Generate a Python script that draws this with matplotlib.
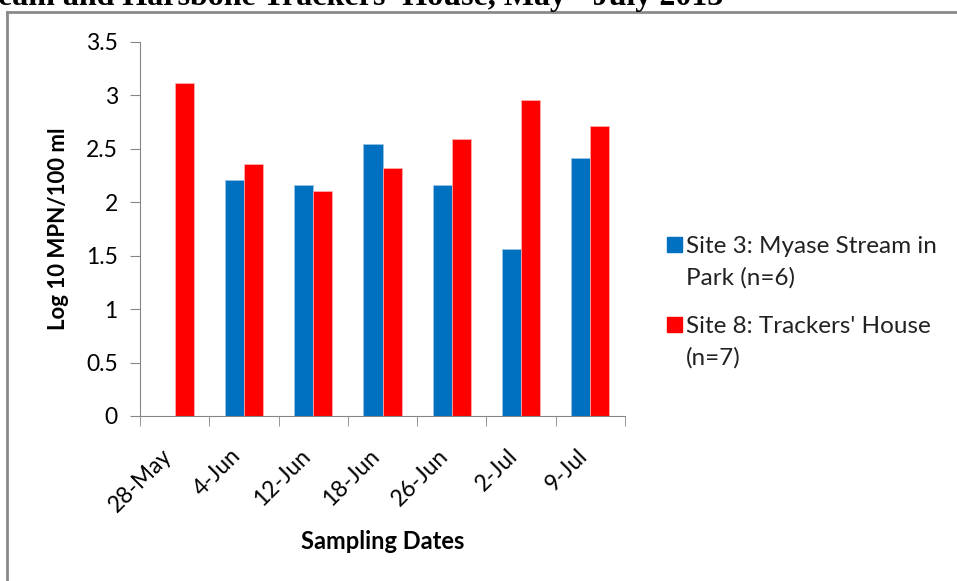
import numpy as np
import matplotlib.pyplot as plt
from matplotlib.lines import Line2D
from matplotlib.patches import Rectangle

# Sampling data
dates = ['28-May', '4-Jun', '12-Jun', '18-Jun', '26-Jun', '2-Jul', '9-Jul']
site3 = [np.nan, 2.21, 2.16, 2.55, 2.16, 1.56, 2.41]
site8 = [3.12, 2.36, 2.11, 2.32, 2.59, 2.96, 2.71]
labels = ['Site 3: Myase Stream in\nPark (n=6)', "Site 8: Trackers' House\n(n=7)"]
colors = ['#0070C0', '#FF0000']
title = "eam and Harsbone Trackers' House, May - July 2013"

plt.rcParams['font.family'] = ['Lato', 'DejaVu Sans']

W, H = 957, 581
fig = plt.figure(figsize=(W / 100, H / 100), dpi=100)
ax = fig.add_axes([140 / W, 1 - 416 / H, 485 / W, 374 / H])

x = np.arange(len(dates))
w = 0.275
ax.bar(x - w / 2, site3, w, color=colors[0], edgecolor='#9DC3E6', linewidth=0.5)
ax.bar(x + w / 2, site8, w, color=colors[1], edgecolor='#FFB3B3', linewidth=0.5)

ax.set_xlim(-0.5, len(dates) - 0.5)
ax.set_ylim(0, 3.5)
ax.set_yticks(np.arange(0, 3.51, 0.5))
ax.set_yticklabels(['0', '0.5', '1', '1.5', '2', '2.5', '3', '3.5'])
ax.set_xticks(x - 0.2)
ax.set_xticklabels(dates, rotation=45, ha='right', rotation_mode='anchor')
ax.set_xticks(np.arange(-0.5, len(dates)), minor=True)
ax.tick_params(axis='x', which='major', length=0, labelsize=16.5, pad=21)
ax.tick_params(axis='x', which='minor', length=7, color='#868686')
ax.tick_params(axis='y', length=7, color='#868686', labelsize=16.5, pad=9)

for s in ['top', 'right']:
    ax.spines[s].set_visible(False)
for s in ['left', 'bottom']:
    ax.spines[s].set_color('#868686')

ax.set_ylabel('Log 10 MPN/100 ml', fontsize=16, fontweight='bold', labelpad=12)
ax.set_xlabel('Sampling Dates', fontsize=17, fontweight='bold', labelpad=10)

# legend: square aligned with the first line of each two-line label
for i, (lab, col) in enumerate(zip(labels, colors)):
    top = 237 + i * 80
    fig.add_artist(Rectangle((667 / W, 1 - (top + 15) / H), 15 / W, 15 / H,
                             transform=fig.transFigure, color=col))
    for j, line in enumerate(lab.split('\n')):
        fig.text(686 / W, 1 - (top + 16 + 32 * j) / H, line, fontsize=17.5,
                 va='baseline', ha='left', color='#222222')

# chart frame (cut off at right and bottom)
fig.add_artist(Line2D([7 / W, 7 / W], [0, 1 - 12 / H], color='#8a8a8a', lw=2))
fig.add_artist(Line2D([7 / W, 1], [1 - 12 / H, 1 - 12 / H], color='#8a8a8a', lw=2))

# partly cut-off document title above the chart
fig.text(-2 / W, 1 - 5 / H, title, fontsize=23, fontweight='bold',
         family='Liberation Serif', ha='left', va='baseline')

fig.savefig('out.png', dpi=100)
